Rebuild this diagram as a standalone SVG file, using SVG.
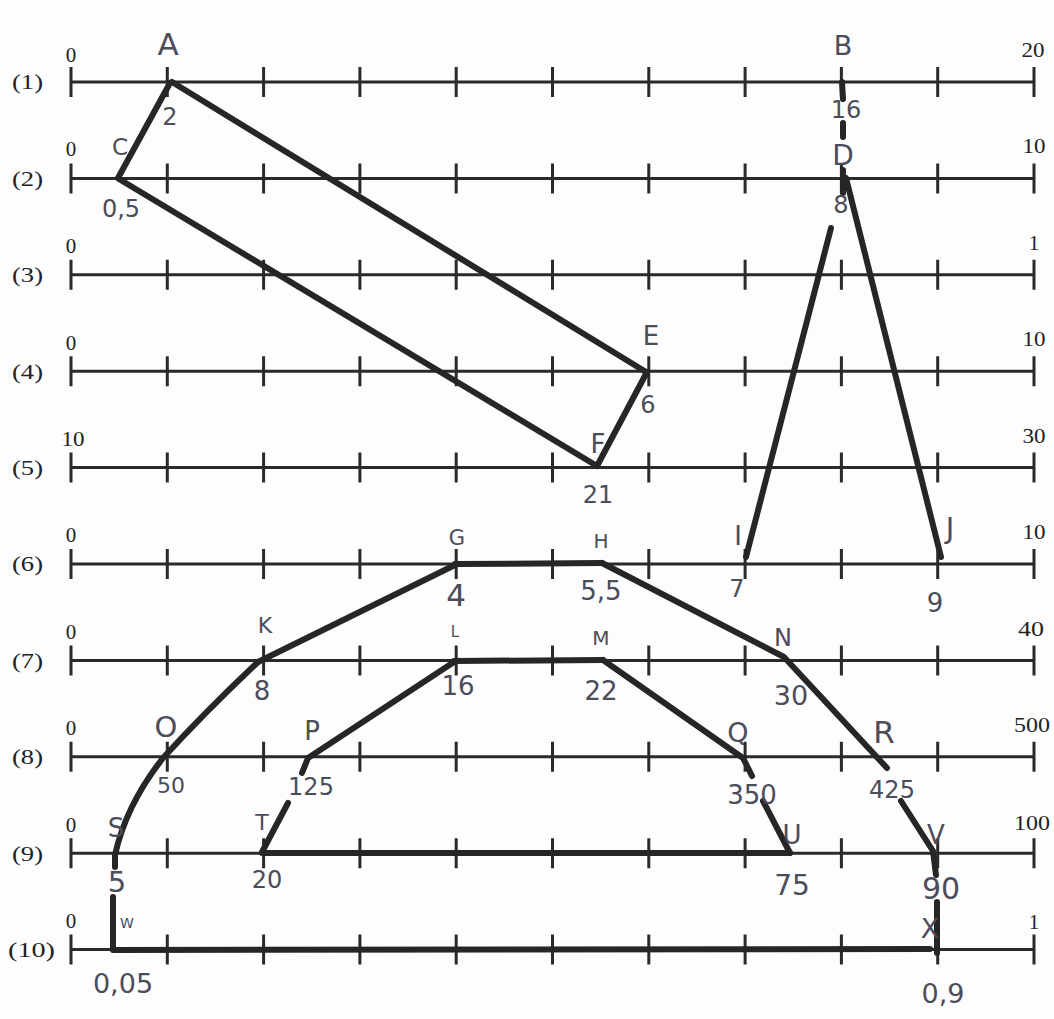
<svg xmlns="http://www.w3.org/2000/svg" xmlns:xlink="http://www.w3.org/1999/xlink" width="1054" height="1019" viewBox="0 0 1054 1019">
<style>
.axis{fill:none;stroke:#2a2a2a;stroke-width:3}
.conn{fill:none;stroke:#262626;stroke-width:6;stroke-linecap:round;stroke-linejoin:round}
.pr{font-family:"Liberation Serif",serif;font-size:21px;fill:#222}
.hw{font-family:"DejaVu Sans","Liberation Sans",sans-serif;fill:#4c4c5a;text-anchor:middle}
.nm{font-size:24px}
</style>
<defs>
<path id="axis" class="axis" d="M71 0H1034M71 -15V15M167.3 -15V15M263.6 -15V15M359.9 -15V15M456.2 -15V15M552.5 -15V15M648.8 -15V15M745.1 -15V15M841.4 -15V15M937.7 -15V15M1034 -15V15"/>
</defs>
<rect width="1054" height="1019" fill="#fdfdfd"/>

<g id="axes">
<g id="axis1"><use xlink:href="#axis" transform="translate(0,82)"/><text class="pr" x="12" y="89" textLength="31" lengthAdjust="spacingAndGlyphs">(1)</text><text class="pr" x="71" y="62" text-anchor="middle">0</text><text class="pr" x="1033" y="57" text-anchor="middle" textLength="23" lengthAdjust="spacingAndGlyphs">20</text></g>
<g id="axis2"><use xlink:href="#axis" transform="translate(0,178.4)"/><text class="pr" x="12" y="186" textLength="31" lengthAdjust="spacingAndGlyphs">(2)</text><text class="pr" x="71" y="156" text-anchor="middle">0</text><text class="pr" x="1034" y="153" text-anchor="middle" textLength="23" lengthAdjust="spacingAndGlyphs">10</text></g>
<g id="axis3"><use xlink:href="#axis" transform="translate(0,274.8)"/><text class="pr" x="12" y="282" textLength="31" lengthAdjust="spacingAndGlyphs">(3)</text><text class="pr" x="71" y="253" text-anchor="middle">0</text><text class="pr" x="1034" y="250" text-anchor="middle">1</text></g>
<g id="axis4"><use xlink:href="#axis" transform="translate(0,371.2)"/><text class="pr" x="12" y="379" textLength="31" lengthAdjust="spacingAndGlyphs">(4)</text><text class="pr" x="71" y="350" text-anchor="middle">0</text><text class="pr" x="1034" y="346" text-anchor="middle" textLength="23" lengthAdjust="spacingAndGlyphs">10</text></g>
<g id="axis5"><use xlink:href="#axis" transform="translate(0,467.6)"/><text class="pr" x="12" y="475" textLength="31" lengthAdjust="spacingAndGlyphs">(5)</text><text class="pr" x="73" y="446" text-anchor="middle" textLength="23" lengthAdjust="spacingAndGlyphs">10</text><text class="pr" x="1034" y="443" text-anchor="middle" textLength="23" lengthAdjust="spacingAndGlyphs">30</text></g>
<g id="axis6"><use xlink:href="#axis" transform="translate(0,564)"/><text class="pr" x="12" y="571" textLength="31" lengthAdjust="spacingAndGlyphs">(6)</text><text class="pr" x="71" y="542" text-anchor="middle">0</text><text class="pr" x="1034" y="539" text-anchor="middle" textLength="23" lengthAdjust="spacingAndGlyphs">10</text></g>
<g id="axis7"><use xlink:href="#axis" transform="translate(0,660.4)"/><text class="pr" x="12" y="668" textLength="31" lengthAdjust="spacingAndGlyphs">(7)</text><text class="pr" x="71" y="639" text-anchor="middle">0</text><text class="pr" x="1031" y="636" text-anchor="middle" textLength="26" lengthAdjust="spacingAndGlyphs">40</text></g>
<g id="axis8"><use xlink:href="#axis" transform="translate(0,756.8)"/><text class="pr" x="12" y="764" textLength="31" lengthAdjust="spacingAndGlyphs">(8)</text><text class="pr" x="71" y="735" text-anchor="middle">0</text><text class="pr" x="1032" y="732" text-anchor="middle" textLength="36" lengthAdjust="spacingAndGlyphs">500</text></g>
<g id="axis9"><use xlink:href="#axis" transform="translate(0,853.2)"/><text class="pr" x="12" y="861" textLength="31" lengthAdjust="spacingAndGlyphs">(9)</text><text class="pr" x="71" y="832" text-anchor="middle">0</text><text class="pr" x="1032" y="830" text-anchor="middle" textLength="36" lengthAdjust="spacingAndGlyphs">100</text></g>
<g id="axis10"><use xlink:href="#axis" transform="translate(0,949.6)"/><text class="pr" x="8" y="957" textLength="47" lengthAdjust="spacingAndGlyphs">(10)</text><text class="pr" x="71" y="928" text-anchor="middle">0</text><text class="pr" x="1034" y="929" text-anchor="middle">1</text></g>
</g>

<g id="connectors">
<path class="conn" d="M170 83L118 178"/>
<path class="conn" d="M172 82L646 372"/>
<path class="conn" d="M119 179L597 466"/>
<path class="conn" d="M647 372L597 466"/>
<path class="conn" d="M842 82L843 99M843 123L843 137"/>
<path class="conn" d="M843 170L843 193"/>
<path class="conn" d="M846 178L941 557"/>
<path class="conn" d="M746 557L831 228"/>
<path class="conn" d="M455 564L602 563"/>
<path class="conn" d="M457 564L258 662"/>
<path class="conn" d="M602 563L784 657L887 768"/>
<path class="conn" d="M901 801L933 851L936 875"/>
<path class="conn" d="M454 661L603 660"/>
<path class="conn" d="M454 662L308 758L302 773"/>
<path class="conn" d="M603 660L743 758L752 776"/>
<path class="conn" d="M763 801L790 853"/>
<path class="conn" d="M262 853L790 853"/>
<path class="conn" d="M262 852L288 803"/>
<path class="conn" d="M258 662Q205 712 163 758Q126 805 115 855L115 867"/>
<path class="conn" d="M113 897L113 950L930 949"/>
<path class="conn" d="M937 902L937 953"/>
</g>

<g id="node-A"><text class="hw" x="168" y="55" font-size="31">A</text><text class="hw nm" x="170" y="125">2</text></g>
<g id="node-B"><text class="hw" x="843" y="55" font-size="27">B</text><text class="hw nm" x="846" y="118">16</text></g>
<g id="node-C"><text class="hw" x="120" y="155" font-size="23">C</text><text class="hw nm" x="121" y="217">0,5</text></g>
<g id="node-D"><text class="hw" x="843" y="165" font-size="28">D</text><text class="hw nm" x="841" y="213">8</text></g>
<g id="node-E"><text class="hw" x="651" y="345" font-size="26">E</text><text class="hw nm" x="648" y="413">6</text></g>
<g id="node-F"><text class="hw" x="598" y="453" font-size="26">F</text><text class="hw nm" x="598" y="503">21</text></g>
<g id="node-G"><text class="hw" x="457" y="545" font-size="21">G</text><text class="hw" x="456" y="606" font-size="31">4</text></g>
<g id="node-H"><text class="hw" x="601" y="548" font-size="20">H</text><text class="hw" x="601" y="600" font-size="26">5,5</text></g>
<g id="node-I"><text class="hw" x="738" y="545" font-size="26">I</text><text class="hw nm" x="737" y="597">7</text></g>
<g id="node-J"><text class="hw" x="950" y="538" font-size="29">J</text><text class="hw" x="935" y="612" font-size="26">9</text></g>
<g id="node-K"><text class="hw" x="265" y="633" font-size="22">K</text><text class="hw" x="262" y="700" font-size="26">8</text></g>
<g id="node-L"><text class="hw" x="455" y="637" font-size="15">L</text><text class="hw" x="458" y="695" font-size="26">16</text></g>
<g id="node-M"><text class="hw" x="601" y="645" font-size="20">M</text><text class="hw" x="601" y="700" font-size="26">22</text></g>
<g id="node-N"><text class="hw" x="783" y="646" font-size="24">N</text><text class="hw" x="791" y="705" font-size="27">30</text></g>
<g id="node-O"><text class="hw" x="166" y="737" font-size="29">O</text><text class="hw" x="171" y="793" font-size="22">50</text></g>
<g id="node-P"><text class="hw" x="312" y="740" font-size="26">P</text><text class="hw nm" x="311" y="795">125</text></g>
<g id="node-Q"><text class="hw" x="738" y="742" font-size="27">Q</text><text class="hw" x="752" y="804" font-size="26">350</text></g>
<g id="node-R"><text class="hw" x="884" y="743" font-size="31">R</text><text class="hw nm" x="892" y="798">425</text></g>
<g id="node-S"><text class="hw" x="116" y="837" font-size="26">S</text><text class="hw" x="117" y="892" font-size="29">5</text></g>
<g id="node-T"><text class="hw" x="262" y="830" font-size="22">T</text><text class="hw nm" x="267" y="888">20</text></g>
<g id="node-U"><text class="hw" x="792" y="844" font-size="26">U</text><text class="hw" x="792" y="895" font-size="28">75</text></g>
<g id="node-V"><text class="hw" x="936" y="844" font-size="26">V</text><text class="hw" x="941" y="899" font-size="30">90</text></g>
<g id="node-W"><text class="hw" x="127" y="928" font-size="14">W</text><text class="hw" x="123" y="993" font-size="27">0,05</text></g>
<g id="node-X"><text class="hw" x="930" y="938" font-size="27" fill="#6b3b40">X</text><text class="hw" x="943" y="1003" font-size="27">0,9</text></g>
</svg>
